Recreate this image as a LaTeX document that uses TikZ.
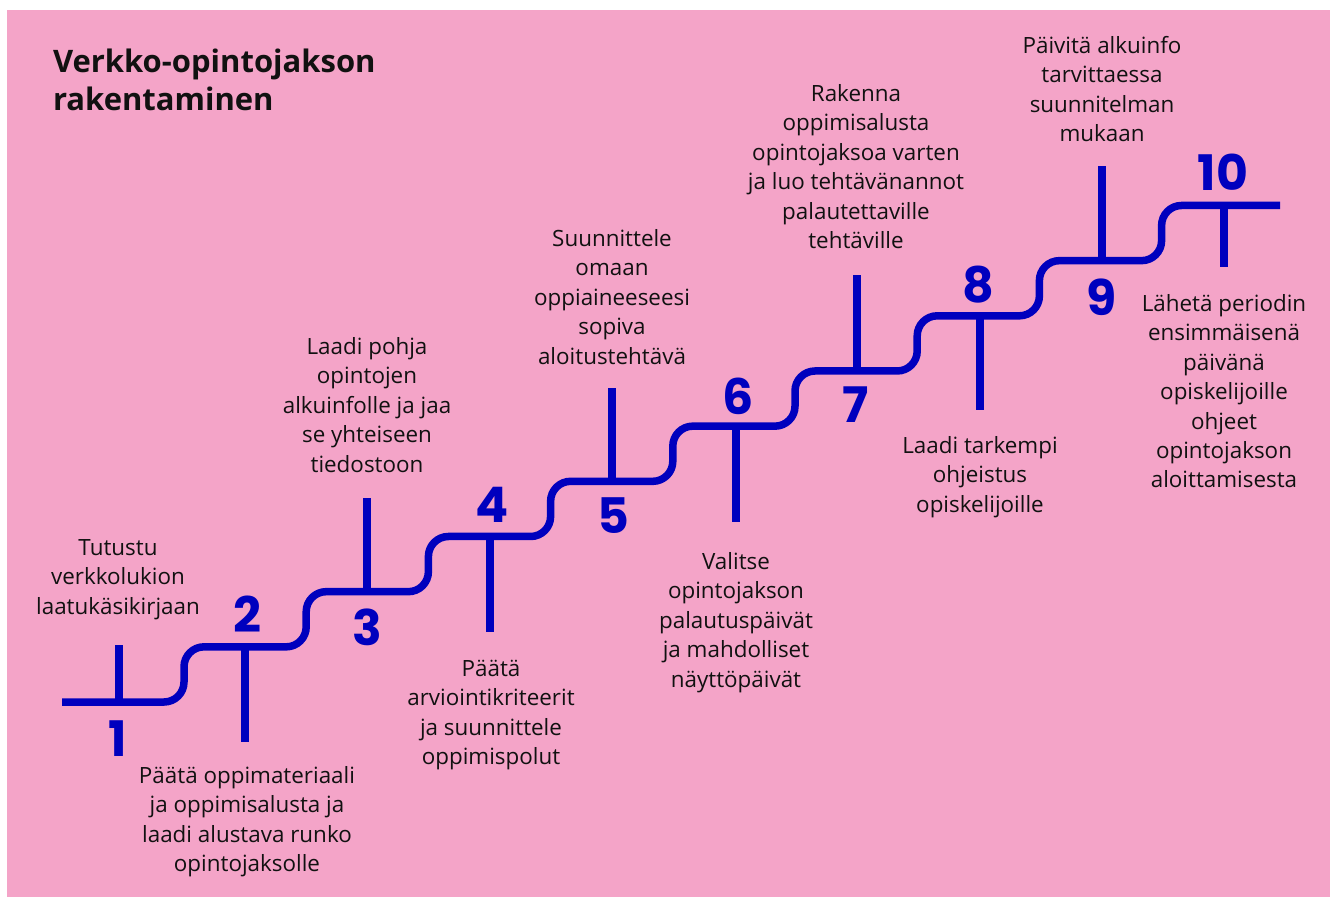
\documentclass[tikz,border=0pt]{standalone}
\usepackage{fontspec}
\setmainfont{Open Sans}
\newfontfamily\numfont{Poppins}
\definecolor{bgpink}{RGB}{244,164,200}
\definecolor{stairblue}{RGB}{0,0,190}
\definecolor{txtcol}{RGB}{17,17,17}
\begin{document}
\begin{tikzpicture}[x=1pt,y=-1pt,
  stair/.style={draw=stairblue, line width=7.5pt, rounded corners=20pt},
  tick/.style={draw=stairblue, line width=7.5pt},
  lbl/.style={inner sep=0pt, outer sep=0pt, align=center, anchor=north, text=txtcol,
    font=\fontsize{22.4}{29.4}\selectfont},
  ttl/.style={inner sep=0pt, outer sep=0pt, align=left, anchor=north west, text=txtcol,
    font=\bfseries\fontsize{31}{38}\selectfont},
  num/.style={inner sep=0pt, outer sep=0pt, text=stairblue,
    font=\numfont\bfseries\fontsize{49}{49}\selectfont},
]
\useasboundingbox (0,0) rectangle (1330,897);
\fill[white] (0,0) rectangle (1330,897);
\fill[bgpink] (7,10) rectangle (1330,897);

% title
\node[ttl] (title) at (53,45.4) {\strut Verkko-opintojakson\\rakentaminen};

% staircase
\draw[stair] (62,702) -- (184,702) -- (184,646.83) -- (306.2,646.83) -- (306.2,591.66)
  -- (428.4,591.66) -- (428.4,536.49) -- (550.6,536.49) -- (550.6,481.32)
  -- (672.8,481.32) -- (672.8,426.15) -- (795,426.15) -- (795,370.98)
  -- (917.2,370.98) -- (917.2,315.81) -- (1039.4,315.81) -- (1039.4,260.64)
  -- (1161.6,260.64) -- (1161.6,205.47) -- (1280,205.47);

% tick points on the steps
\coordinate (t1) at (119,702);
\coordinate (t2) at (245,646.83);
\coordinate (t3) at (367,591.66);
\coordinate (t4) at (490,536.49);
\coordinate (t5) at (612,481.32);
\coordinate (t6) at (736,426.15);
\coordinate (t7) at (857,370.98);
\coordinate (t8) at (980,315.81);
\coordinate (t9) at (1102,260.64);
\coordinate (t10) at (1224,205.47);
\coordinate (e1) at (119,645);
\coordinate (e2) at (245,742);
\coordinate (e3) at (367,498);
\coordinate (e4) at (490,632);
\coordinate (e5) at (612,388);
\coordinate (e6) at (736,522);
\coordinate (e7) at (857,275);
\coordinate (e8) at (980,410);
\coordinate (e9) at (1102,166);
\coordinate (e10) at (1224,267);
\draw[tick] (t1) -- (e1);
\draw[tick] (t2) -- (e2);
\draw[tick] (t3) -- (e3);
\draw[tick] (t4) -- (e4);
\draw[tick] (t5) -- (e5);
\draw[tick] (t6) -- (e6);
\draw[tick] (t7) -- (e7);
\draw[tick] (t8) -- (e8);
\draw[tick] (t9) -- (e9);
\draw[tick] (t10) -- (e10);

% step numbers
\node[num] (n1) at (118,739) {1};
\node[num] (n2) at (247,614) {2};
\node[num] (n3) at (367,627) {3};
\node[num] (n4) at (492,505) {4};
\node[num] (n5) at (613,516) {5};
\node[num] (n6) at (738,396) {6};
\node[num] (n7) at (856,405) {7};
\node[num] (n8) at (978,285) {8};
\node[num] (n9) at (1102,297) {9};
\node[num] (n10) at (1223,172) {10};

% step texts
\node[lbl] (l1) at (118,535) {\strut Tutustu\\verkkolukion\\laatukäsikirjaan};
\node[lbl] (l2) at (247,763) {\strut Päätä oppimateriaali\\ja oppimisalusta ja\\laadi alustava runko\\opintojaksolle};
\node[lbl] (l3) at (367,334) {\strut Laadi pohja\\opintojen\\alkuinfolle ja jaa\\se yhteiseen\\tiedostoon};
\node[lbl] (l4) at (491,656) {\strut Päätä\\arviointikriteerit\\ja suunnittele\\oppimispolut};
\node[lbl] (l5) at (612,226) {\strut Suunnittele\\omaan\\oppiaineeseesi\\sopiva\\aloitustehtävä};
\node[lbl] (l6) at (736,549) {\strut Valitse\\opintojakson\\palautuspäivät\\ja mahdolliset\\näyttöpäivät};
\node[lbl] (l7) at (856,81) {\strut Rakenna\\oppimisalusta\\opintojaksoa varten\\ja luo tehtävänannot\\palautettaville\\tehtäville};
\node[lbl] (l8) at (980,433) {\strut Laadi tarkempi\\ohjeistus\\opiskelijoille};
\node[lbl] (l9) at (1102,33) {\strut Päivitä alkuinfo\\tarvittaessa\\suunnitelman\\mukaan};
\node[lbl] (l10) at (1224,291) {\strut Lähetä periodin\\ensimmäisenä\\päivänä\\opiskelijoille\\ohjeet\\opintojakson\\aloittamisesta};
\end{tikzpicture}
\end{document}
